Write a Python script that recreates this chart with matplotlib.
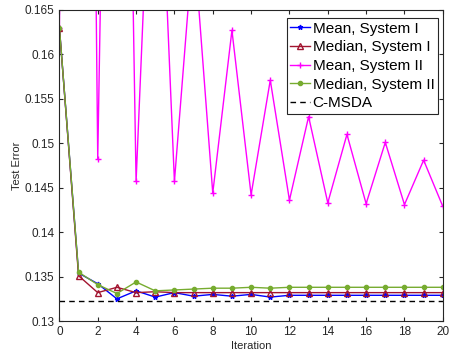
import matplotlib.pyplot as plt
import numpy as np

plt.rcParams['font.family'] = ['Liberation Sans', 'DejaVu Sans']

iters = list(range(21))
mean_sys1 = [0.163, 0.1354, 0.1342, 0.1325, 0.1334, 0.1327, 0.1332, 0.1328, 0.1330, 0.1328, 0.1330,
             0.1327, 0.1329, 0.1329, 0.1329, 0.1329, 0.1329, 0.1329, 0.1329, 0.1329, 0.1329]
median_sys1 = [0.163, 0.1351, 0.1332, 0.1338, 0.1332, 0.1333, 0.1332, 0.1332, 0.1332, 0.1332, 0.1332,
               0.1332, 0.1332, 0.1332, 0.1332, 0.1332, 0.1332, 0.1332, 0.1332, 0.1332, 0.1332]
mean_sys2 = [0.163, 0.36, 0.1482, 0.275, 0.1457, 0.197, 0.1457, 0.173, 0.1444, 0.1627, 0.1442,
             0.1571, 0.1436, 0.1530, 0.1433, 0.1510, 0.1432, 0.1501, 0.1431, 0.1481, 0.1429]
median_sys2 = [0.163, 0.1355, 0.1341, 0.1331, 0.1344, 0.1334, 0.1335, 0.1336, 0.1337, 0.1337, 0.1338,
               0.1337, 0.1338, 0.1338, 0.1338, 0.1338, 0.1338, 0.1338, 0.1338, 0.1338, 0.1338]
cmsda = 0.1323

fig = plt.figure(figsize=(4.5, 3.54), dpi=100)
ax = fig.add_axes([0.132, 0.093, 0.852, 0.879])

ax.plot(iters, mean_sys1, color='#0000ff', marker='*', markersize=3.5, lw=1, label='Mean, System I')
ax.plot(iters, median_sys1, color='#a2142f', marker='^', markersize=4.5, mfc='none', lw=1,
        label='Median, System I')
ax.plot(iters, mean_sys2, color='#ff00ff', marker='+', markersize=5, lw=1, label='Mean, System II')
ax.plot(iters, median_sys2, color='#77ac30', marker='.', markersize=6, lw=1, label='Median, System II')
ax.axhline(cmsda, color='k', ls='--', lw=1, dashes=(4, 3), label='C-MSDA')

ax.set_xlim(0, 20)
ax.set_ylim(0.13, 0.165)
ax.set_xticks(np.arange(0, 21, 2))
ax.set_yticks([0.13, 0.135, 0.14, 0.145, 0.15, 0.155, 0.16, 0.165])
ax.set_yticklabels(['0.13', '0.135', '0.14', '0.145', '0.15', '0.155', '0.16', '0.165'])
ax.tick_params(direction='in', top=True, right=True, labelsize=8.5, colors='#262626', length=3)
for s in ax.spines.values():
    s.set_color('#262626')
    s.set_linewidth(0.8)
ax.set_xlabel('Iteration', fontsize=8, color='#262626', labelpad=2)
ax.set_ylabel('Test Error', fontsize=8, color='#262626', labelpad=2)

leg = ax.legend(loc='upper right', bbox_to_anchor=(0.988, 0.974), borderaxespad=0,
                fontsize=11, handlelength=1.3, handletextpad=0.15,
                borderpad=0.25, labelspacing=0.3, fancybox=False, framealpha=1)
leg.get_frame().set_edgecolor('#262626')
leg.get_frame().set_linewidth(0.8)

fig.savefig('out.png', dpi=100)
